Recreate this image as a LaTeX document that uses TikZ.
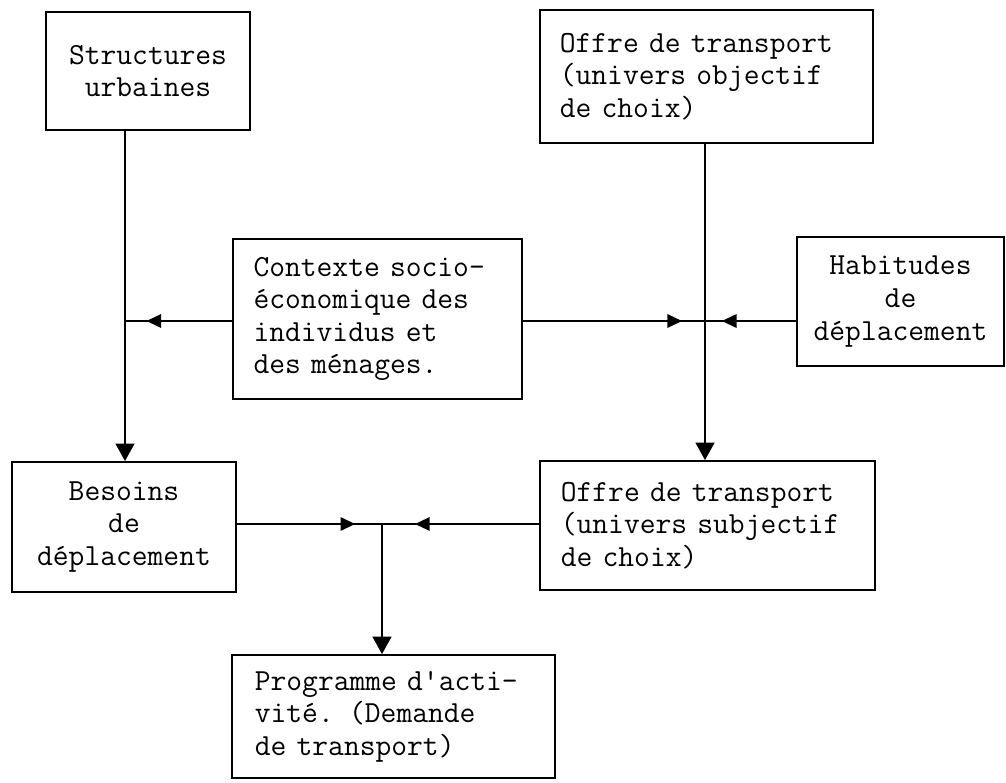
\documentclass[tikz,border=0pt]{standalone}
\usepackage{fontspec}
\newcommand\boxfont{\ttfamily\addfontfeatures{FakeBold=0.5}\fontsize{23}{24.4}\selectfont}
\usetikzlibrary{arrows.meta,decorations.markings}
\begin{document}
\begin{tikzpicture}[x=0.75pt,y=-0.75pt,
  box/.style={draw,line width=1.4pt,inner sep=0pt,font=\boxfont},
  conn/.style={line width=1.6pt},
  downarrow/.style={conn,-{Triangle[length=13pt,width=14pt]}},
  midarrow/.style={conn,postaction={decorate},decoration={markings,mark=at position #1 with {\arrow{Triangle[length=11pt,width=10pt]}}}}
]
\useasboundingbox (0,0) rectangle (1006,782);

\node[box,align=center,minimum width=153pt,minimum height=88.5pt] (strct) at (148,71) {Structures\\urbaines};
\node[box,align=left,text width=220pt,minimum width=249.75pt,minimum height=99.75pt] (oobj) at (706.5,76.5) {Offre de transport\\(univers objectif\\de choix)};
\node[box,align=left,text width=186pt,minimum width=216.75pt,minimum height=120pt] (ctx) at (377.5,319) {Contexte socio-\\économique des\\individus et\\des ménages.};
\node[box,align=center,minimum width=155.25pt,minimum height=96.75pt] (hab) at (900.5,301.5) {Habitudes\\de\\déplacement};
\node[box,align=center,minimum width=168pt,minimum height=97.5pt] (bes) at (124,527) {Besoins\\de\\déplacement};
\node[box,align=left,text width=220pt,minimum width=251.25pt,minimum height=96.75pt] (osubj) at (707.5,525.5) {Offre de transport\\(univers subjectif\\de choix)};
\node[box,align=left,text width=208pt,minimum width=242.25pt,minimum height=92.25pt] (prog) at (393.5,716.5) {Programme d\textquotesingle acti-\\vité. (Demande\\de transport)};

\coordinate (j1) at (125,321);
\coordinate (j2) at (705,321);
\coordinate (j3) at (382,524);

\draw[downarrow] (strct.south -| j1) -- (bes.north -| j1);
\draw[downarrow] (oobj.south -| j2) -- (osubj.north -| j2);
\draw[downarrow] (j3) -- (prog.north -| j3);

\draw[midarrow=0.8] (ctx.west |- j1) -- (j1);
\draw[midarrow=0.874] (ctx.east |- j2) -- (j2);
\draw[midarrow=0.815] (hab.west |- j2) -- (j2);
\draw[midarrow=0.815] (bes.east |- j3) -- (j3);
\draw[midarrow=0.79] (osubj.west |- j3) -- (j3);
\end{tikzpicture}
\end{document}
